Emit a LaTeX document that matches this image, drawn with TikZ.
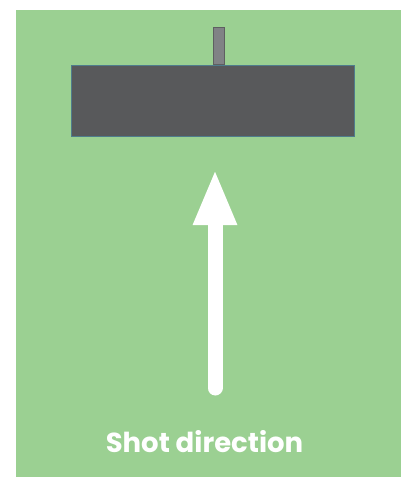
\documentclass[tikz,border=0pt]{standalone}
\usepackage{fontspec}
\setsansfont{Poppins}
\usepackage{tikz}
\usetikzlibrary{arrows.meta, positioning}

\definecolor{grass}{HTML}{9BD092}
\definecolor{wallgrey}{HTML}{58595B}
\definecolor{walledge}{HTML}{4F7C8C}
\definecolor{postgrey}{HTML}{808285}
\definecolor{postedge}{HTML}{5E5F61}

\begin{document}
\begin{tikzpicture}[x=1pt, y=-1pt,
    wall/.style={rectangle, draw=walledge, fill=wallgrey, line width=0.8pt, minimum width=283pt, minimum height=71pt, inner sep=0pt},
    post/.style={rectangle, draw=postedge, fill=postgrey, line width=0.8pt, minimum width=11pt, minimum height=37pt, inner sep=0pt},
    shot/.style={-{Triangle[width=40pt, length=56pt]}, white, line width=15pt, line cap=round},
    label/.style={font=\sffamily\bfseries\fontsize{27.5}{32}\selectfont, text=white}
]
\useasboundingbox (0,0) rectangle (403,477);

% Field
\fill[grass] (16,10) rectangle (401,477);

% Target
\node[wall] (wall) at (212.5,100.5) {};
\node[post, above=0pt of wall.north, xshift=6pt] (post) {};

% Shot
\coordinate (start) at (215,388);
\coordinate (tip) at (215,169);
\draw[shot] (start) -- (tip);

\node[label] (caption) at (204.5,442) {Shot direction};

\end{tikzpicture}
\end{document}
